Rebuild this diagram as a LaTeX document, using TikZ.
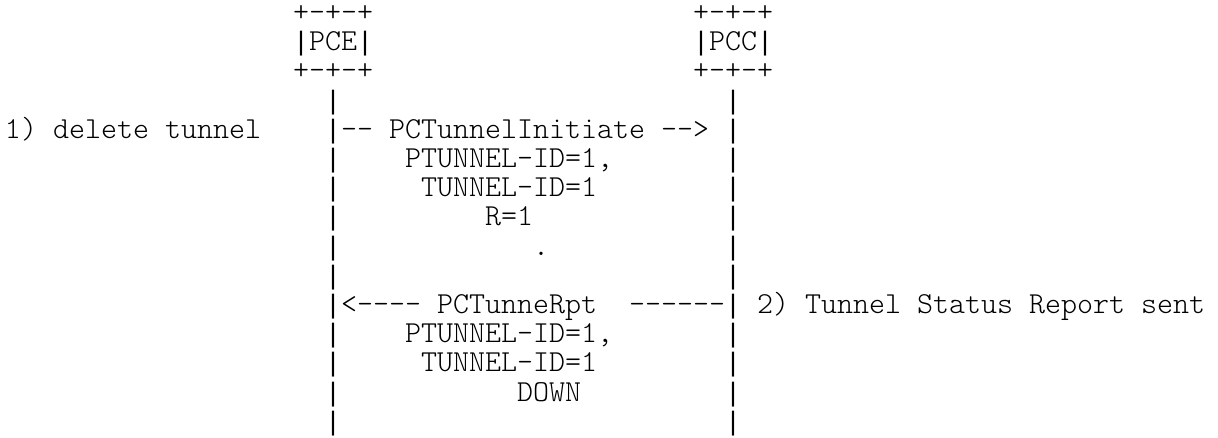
\documentclass[tikz,border=0pt]{standalone}
\usepackage{fontspec}
\setmonofont{Latin Modern Mono Light}
% long vertical bar glyph, same 12pt advance as the text font
\newfontfamily\barfont{Liberation Mono}
\newcommand\vb{{\barfont\fontsize{20}{20}\selectfont|}}
\begin{document}
\begin{tikzpicture}[x=0.75pt,y=-0.75pt,
  txt/.style={anchor=base west,inner sep=0pt,outer sep=0pt,
              font=\ttfamily\fontsize{22.86}{22.86}\selectfont,text=black}]
\useasboundingbox (0,0) rectangle (1218,438);
% character grid: 16px columns, 29.2px rows
\def\cx#1{(5+16*#1)}
\def\ry#1{(29.2*#1+21.6)}
\newcommand\cell[4]{\node[txt] (#1) at ({\cx{#2}},{\ry{#3}}) {#4};}
% PCE and PCC boxes
\cell{pceTop}{18}{0}{+-+-+}
\cell{pce}{18}{1}{\vb PCE\vb}
\cell{pceBot}{18}{2}{+-+-+}
\cell{pccTop}{43}{0}{+-+-+}
\cell{pcc}{43}{1}{\vb PCC\vb}
\cell{pccBot}{43}{2}{+-+-+}
% lifelines
\foreach \r in {3,5,6,7,8,9,11,12,13,14}{
  \cell{lifeE\r}{20}{\r}{\vb}
}
\foreach \r in {3,4,5,6,7,8,9,11,12,13,14}{
  \cell{lifeC\r}{45}{\r}{\vb}
}
% step 1
\cell{stepOne}{0}{4}{1) delete tunnel}
\cell{initiate}{20}{4}{\vb-- PCTunnelInitiate -->}
\cell{initA}{25}{5}{PTUNNEL-ID=1,}
\cell{initB}{26}{6}{TUNNEL-ID=1}
\cell{initC}{30}{7}{R=1}
\cell{initD}{33}{8}{.}
% step 2
\cell{report}{20}{10}{\vb<---- PCTunneRpt~~------\vb}
\cell{stepTwo}{47}{10}{2) Tunnel Status Report sent}
\cell{rptA}{25}{11}{PTUNNEL-ID=1,}
\cell{rptB}{26}{12}{TUNNEL-ID=1}
\cell{rptC}{32}{13}{DOWN}
\end{tikzpicture}
\end{document}
